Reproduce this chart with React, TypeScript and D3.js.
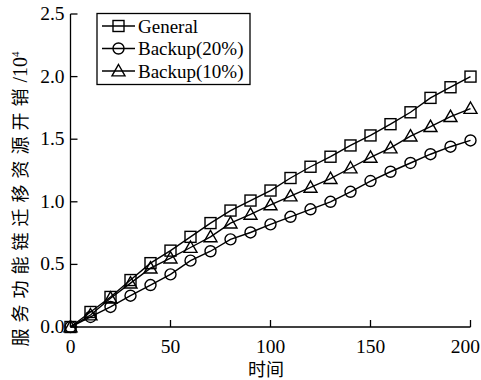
import React from "react";
import * as d3 from "d3";

const times = [0, 10, 20, 30, 40, 50, 60, 70, 80, 90, 100, 110, 120, 130, 140, 150, 160, 170, 180, 190, 200];
const general = [0, 0.12, 0.24, 0.375, 0.51, 0.61, 0.72, 0.83, 0.93, 1.01, 1.09, 1.19, 1.28, 1.36, 1.45, 1.53, 1.62, 1.715, 1.83, 1.915, 2.0];
const backup20 = [0, 0.08, 0.16, 0.25, 0.335, 0.42, 0.53, 0.605, 0.70, 0.755, 0.82, 0.88, 0.94, 1.0, 1.08, 1.166, 1.24, 1.31, 1.38, 1.44, 1.49];
const backup10 = [0, 0.096, 0.23, 0.35, 0.47, 0.55, 0.635, 0.72, 0.83, 0.9, 0.975, 1.046, 1.115, 1.185, 1.27, 1.355, 1.43, 1.525, 1.6, 1.68, 1.745];
const seriesNames = ["General", "Backup(20%)", "Backup(10%)"];
const markerKinds = ["square", "circle", "triangle"];
const xTicks = [0, 50, 100, 150, 200];
const yTicks = [0, 0.5, 1.0, 1.5, 2.0, 2.5];
const yLabel = "服务功能链迁移资源开销/10";
const xLabel = "时间";

const W = 481, H = 380;
const x = d3.scaleLinear().domain([0, 200]).range([70.5, 470.5]);
const y = d3.scaleLinear().domain([0, 2.5]).range([327, 14]);

function Marker({ kind, cx, cy }: { kind: string; cx: number; cy: number }) {
  const common = { fill: "none", stroke: "#000", strokeWidth: 1.4 };
  if (kind === "square") return <rect x={cx - 5.5} y={cy - 5.5} width={11} height={11} {...common} />;
  if (kind === "circle") return <circle cx={cx} cy={cy} r={5.5} {...common} />;
  const s = 6.5;
  return <path d={`M${cx},${cy - s} L${cx + s},${cy + s * 0.75} L${cx - s},${cy + s * 0.75} Z`} {...common} />;
}

export default function App() {
  const data = [general, backup20, backup10];
  const line = d3.line<number>().x((_, i) => x(times[i])).y((v) => y(v));
  const serif = "'Liberation Serif', 'Times New Roman', serif";
  const cjk = "'Noto Sans CJK SC', sans-serif";
  return (
    <svg width={W} height={H} style={{ position: "absolute", left: 0, top: 0, background: "#fff" }}>
      {/* axes */}
      <line x1={x(0)} x2={x(0)} y1={y(2.5)} y2={y(0)} stroke="#000" strokeWidth={1.3} />
      <line x1={x(0)} x2={x(200)} y1={y(0)} y2={y(0)} stroke="#000" strokeWidth={1.3} />
      {yTicks.map((t) => (
        <g key={"y" + t}>
          <line x1={x(0)} x2={x(0) + 7} y1={y(t)} y2={y(t)} stroke="#000" strokeWidth={1.3} />
          <text x={x(0) - 6} y={y(t) + 6} textAnchor="end" fontFamily={serif} fontSize={19.5}>
            {t.toFixed(1)}
          </text>
        </g>
      ))}
      {xTicks.map((t, i) => {
        const last = i === xTicks.length - 1;
        return (
          <g key={"x" + t}>
            <line x1={x(t)} x2={x(t)} y1={y(0)} y2={y(0) - 7} stroke="#000" strokeWidth={1.3} />
            <text
              x={last ? W - 1 : x(t)}
              y={353}
              textAnchor={last ? "end" : "middle"}
              fontFamily={serif}
              fontSize={19.5}
            >
              {t}
            </text>
          </g>
        );
      })}
      {/* series */}
      {data.map((s, si) => (
        <g key={si}>
          <path d={line(s) || ""} fill="none" stroke="#000" strokeWidth={1.4} />
          {s.map((v, i) => (
            <Marker key={i} kind={markerKinds[si]} cx={x(times[i])} cy={y(v)} />
          ))}
        </g>
      ))}
      {/* legend */}
      <rect x={97} y={13.5} width={153} height={71} fill="none" stroke="#000" strokeWidth={1.3} />
      {seriesNames.map((n, i) => {
        const ly = 26 + i * 22.5;
        return (
          <g key={n}>
            <line x1={102} x2={135} y1={ly} y2={ly} stroke="#000" strokeWidth={1.4} />
            <Marker kind={markerKinds[i]} cx={118.5} cy={ly} />
            <text x={138} y={ly + 6.5} fontFamily={serif} fontSize={19}>
              {n}
            </text>
          </g>
        );
      })}
      {/* axis labels */}
      <text x={266} y={376} textAnchor="middle" fontFamily={cjk} fontSize={18}>
        {xLabel}
      </text>
      <text transform="translate(27,199) rotate(-90)" textAnchor="middle" fontSize={18}>
        <tspan fontFamily={cjk} letterSpacing={6}>{yLabel.slice(0, 11)}</tspan>
        <tspan fontFamily={serif} fontSize={20}>{yLabel.slice(11)}</tspan>
        <tspan fontFamily={serif} fontSize={11} dy={-8}>4</tspan>
      </text>
    </svg>
  );
}
